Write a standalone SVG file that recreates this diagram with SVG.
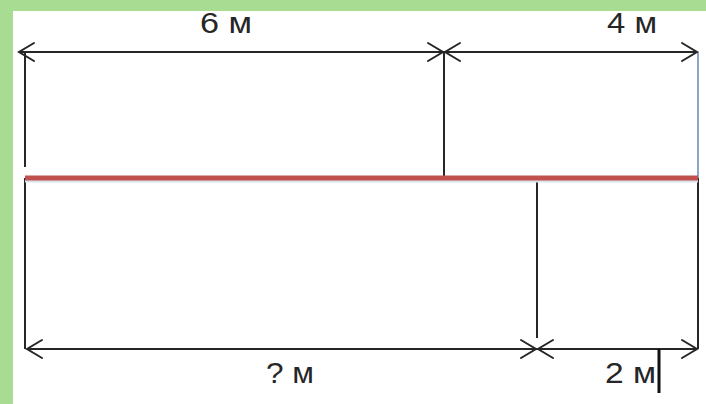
<svg xmlns="http://www.w3.org/2000/svg" width="706" height="404" viewBox="0 0 706 404">
<style>
.ln{stroke:#262626;stroke-width:2;fill:none}
.ah{stroke:#262626;stroke-width:2;fill:none;stroke-linecap:round;stroke-linejoin:miter}
.lbl{font-family:"Liberation Sans",Arial,sans-serif;font-size:29px;fill:#262626}
</style>
<rect width="706" height="404" fill="#a8dc92"/>
<rect x="13" y="11" width="693" height="393" fill="#ffffff"/>
<g id="connectors">
<line class="ln" x1="19" y1="52" x2="697" y2="52"/>
<line class="ln" x1="25" y1="52" x2="25" y2="167"/>
<line class="ln" x1="444" y1="52" x2="444" y2="178"/>
<line x1="698" y1="52" x2="698" y2="178" stroke="#8ea4c8" stroke-width="2"/>
<line class="ln" x1="25" y1="178" x2="25" y2="349"/>
<line class="ln" x1="537" y1="178" x2="537" y2="338"/>
<line class="ln" x1="698" y1="178" x2="698" y2="349"/>
<line class="ln" x1="27" y1="349" x2="697" y2="349"/>
<path class="ah" d="M34 43 L19 52 L34 61"/>
<path class="ah" d="M428 43 L443 52 L428 61"/>
<path class="ah" d="M460 43 L445 52 L460 61"/>
<path class="ah" d="M682 43 L697 52 L682 61"/>
<path class="ah" d="M42 340 L27 349 L42 358"/>
<path class="ah" d="M521 340 L536 349 L521 358"/>
<path class="ah" d="M553 340 L538 349 L553 358"/>
<path class="ah" d="M682 340 L697 349 L682 358"/>
</g>
<g id="segment">
<line x1="25" y1="181" x2="698" y2="181" stroke="#dde2ee" stroke-width="3"/>
<line x1="25" y1="178" x2="698" y2="178" stroke="#c0504d" stroke-width="5"/>
</g>
<g id="label-6m"><text class="lbl" x="200" y="33" textLength="52" lengthAdjust="spacingAndGlyphs">6 м</text></g>
<g id="label-4m"><text class="lbl" x="607" y="33" textLength="50" lengthAdjust="spacingAndGlyphs">4 м</text></g>
<g id="label-qm"><text class="lbl" x="266" y="383" textLength="48" lengthAdjust="spacingAndGlyphs">? м</text></g>
<g id="label-2m"><text class="lbl" x="605" y="383" textLength="51" lengthAdjust="spacingAndGlyphs">2 м</text></g>
<line x1="659" y1="349" x2="659" y2="393" stroke="#111" stroke-width="3"/>
</svg>
